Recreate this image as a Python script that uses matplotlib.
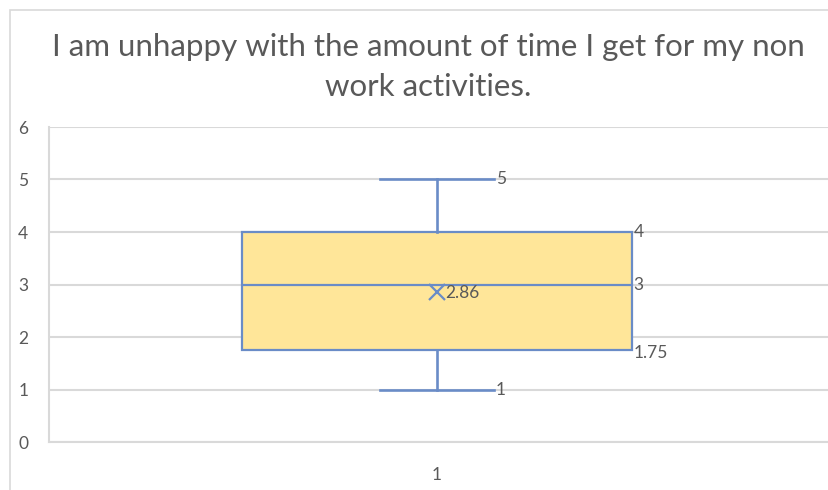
import matplotlib
matplotlib.use("Agg")
import matplotlib.pyplot as plt
from matplotlib.patches import Rectangle

# Box plot summary
category = "1"
whisker_low = 1
q1 = 1.75
median = 3
q3 = 4
whisker_high = 5
mean = 2.86
y_ticks = [0, 1, 2, 3, 4, 5, 6]

title = "I am unhappy with the amount of time I get for my non\nwork activities."

plt.rcParams['font.family'] = ['Lato', 'DejaVu Sans']
text_gray = '#595959'
grid_gray = '#d9d9d9'
box_edge = '#6a8cc7'
box_fill = '#ffe699'

fig = plt.figure(figsize=(8.29, 4.90), dpi=100)

# chart frame (cropped on the right and bottom in the reference)
fig.patches.append(Rectangle((10 / 829, -0.1), 2, 1 - 10 / 490 + 0.1,
                             transform=fig.transFigure, fill=False,
                             edgecolor=grid_gray, linewidth=1.2))

ax = fig.add_axes([49 / 829, 1 - 442 / 490, 780 / 829, (442 - 127) / 490])

stats = [{
    'whislo': whisker_low, 'q1': q1, 'med': median, 'q3': q3,
    'whishi': whisker_high, 'mean': mean, 'label': category, 'fliers': [],
}]
ax.bxp(stats, positions=[1], widths=0.5, capwidths=0.147,
       showmeans=True, patch_artist=True,
       boxprops=dict(facecolor=box_fill, edgecolor=box_edge, linewidth=1.6),
       medianprops=dict(color=box_edge, linewidth=1.6),
       whiskerprops=dict(color=box_edge, linewidth=1.9),
       capprops=dict(color=box_edge, linewidth=1.9),
       meanprops=dict(marker='x', markeredgecolor=box_edge, markersize=12,
                      markeredgewidth=1.6))

# data labels
lab = dict(color=text_gray, fontsize=12.5, va='center')
cap_end = 1 + 0.147 / 2
box_end = 1 + 0.25
ax.text(cap_end + 0.002, whisker_high, f"{whisker_high}", ha='left', **lab)
ax.text(cap_end + 0.002, whisker_low, f"{whisker_low}", ha='left', **lab)
ax.text(box_end + 0.002, q3, f"{q3}", ha='left', **lab)
ax.text(box_end + 0.002, median, f"{median}", ha='left', **lab)
ax.text(box_end + 0.002, q1 - 0.05, f"{q1}", ha='left', **lab)
ax.text(1 + 0.01, mean - 0.02, f"{mean}", ha='left', **lab)

ax.set_xlim(1 - 388 / 780, 1 + 392 / 780)
ax.set_ylim(0, 6)
ax.set_yticks(y_ticks)
ax.set_xticks([1])
ax.set_xticklabels([category])
ax.yaxis.grid(True, color=grid_gray, linewidth=1.5)
ax.set_axisbelow(True)
for side in ['top', 'right']:
    ax.spines[side].set_visible(False)
for side in ['left', 'bottom']:
    ax.spines[side].set_color(grid_gray)
    ax.spines[side].set_linewidth(1.5)
ax.tick_params(length=0, colors=text_gray, labelsize=12.5)
ax.tick_params(axis='y', pad=15)
ax.tick_params(axis='x', pad=18)

fig.text(428 / 829, 1 - 67 / 490, title, ha='center', va='center',
         fontsize=22.5, color=text_gray, linespacing=1.5)

fig.savefig("out.png", dpi=100)
